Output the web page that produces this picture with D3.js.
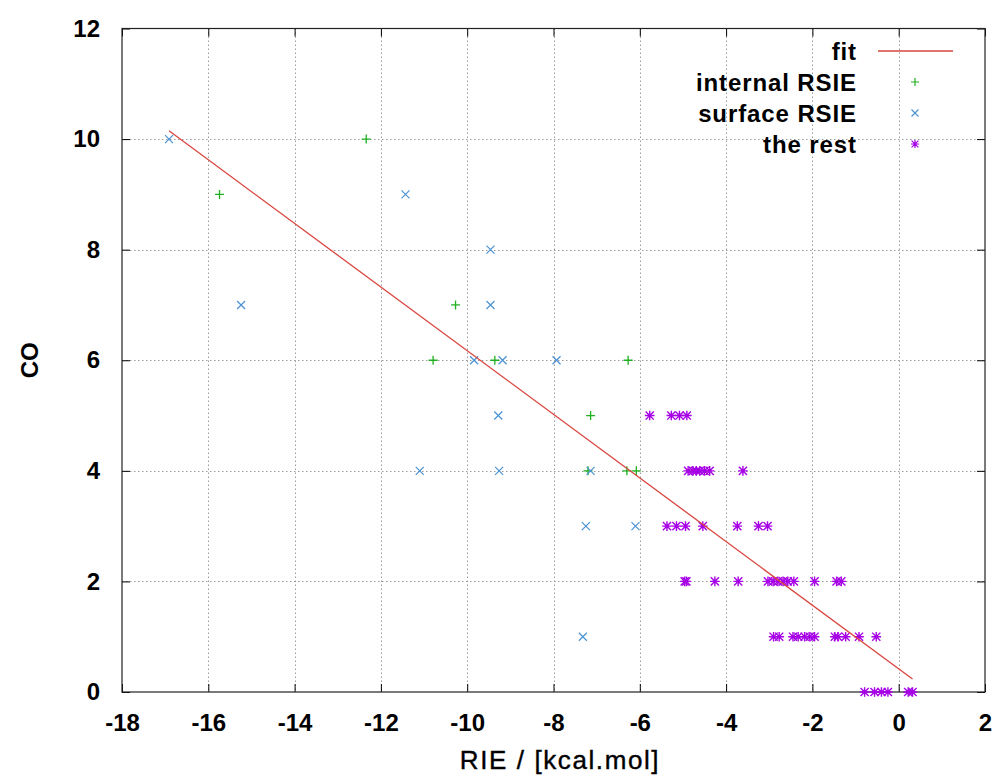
<!DOCTYPE html>
<html>
<head>
<meta charset="utf-8">
<script src="https://cdn.jsdelivr.net/npm/d3@7"></script>
<style>
  html, body { margin: 0; padding: 0; background: #fff; }
  svg { display: block; }
  text { font-family: "Liberation Sans", Arial, sans-serif; fill: #000; }
</style>
</head>
<body>
<svg id="chart" width="997" height="781"></svg>
<script>
// Internal RSIE points
const internalX = [-15.74, -12.34, -10.27, -10.79, -9.36, -6.27, -7.14, -7.20, -6.30, -6.08];
const internalY = [9, 10, 7, 6, 6, 6, 5, 4, 4, 4];

// Surface RSIE points
const surfaceX = [-16.91, -11.43, -15.24, -9.46, -9.46, -9.84, -9.18, -7.93, -9.28, -11.10, -9.26, -7.14, -7.25, -6.10, -7.32];
const surfaceY = [10, 9, 7, 8, 7, 6, 6, 6, 5, 4, 4, 4, 3, 3, 1];

// Remaining points
const restX = [
  -5.77, -5.27, -5.08, -4.91,
  -4.88, -4.77, -4.69, -4.61, -4.50, -4.38, -3.61,
  -5.37, -5.15, -4.94, -4.54, -3.74, -3.25, -3.04,
  -4.96, -4.92, -4.26, -3.72, -3.03, -2.91, -2.80, -2.68, -2.57, -2.43, -1.95, -1.44, -1.33,
  -2.90, -2.77, -2.45, -2.33, -2.18, -2.06, -1.95, -1.48, -1.41, -1.23, -0.92, -0.52,
  -0.79, -0.56, -0.40, -0.25, 0.22, 0.32
];
const restY = [
  5, 5, 5, 5,
  4, 4, 4, 4, 4, 4, 4,
  3, 3, 3, 3, 3, 3, 3,
  2, 2, 2, 2, 2, 2, 2, 2, 2, 2, 2, 2, 2,
  1, 1, 1, 1, 1, 1, 1, 1, 1, 1, 1, 1,
  0, 0, 0, 0, 0, 0
];

// Linear fit CO = slope * RIE + intercept
const fitSlope = -0.5755;
const fitIntercept = 0.418;

const xTicks = [-18, -16, -14, -12, -10, -8, -6, -4, -2, 0, 2];
const yTicks = [0, 2, 4, 6, 8, 10, 12];
const seriesNames = ["fit", "internal RSIE", "surface RSIE", "the rest"];

const colors = { fit: "#d9463f", internal: "#1fb01f", surface: "#4a92d4", rest: "#a600e6" };

const margin = { left: 122, right: 12, top: 28.5, bottom: 89 };
const W = 997, H = 781;
const svg = d3.select("#chart");

const x = d3.scaleLinear().domain([-18, 2]).range([margin.left, W - margin.right]);
const y = d3.scaleLinear().domain([0, 12]).range([H - margin.bottom, margin.top]);

const x0 = x.range()[0], x1 = x.range()[1];
const yb = y.range()[0], yt = y.range()[1];

// Dotted grid
const grid = svg.append("g").attr("stroke", "#9a9a9a").attr("stroke-width", 1)
  .attr("stroke-dasharray", "1.5,2.5");
grid.selectAll("line.gx").data(xTicks.slice(1, -1)).join("line")
  .attr("x1", d => Math.round(x(d)) + 0.5).attr("x2", d => Math.round(x(d)) + 0.5)
  .attr("y1", yt).attr("y2", yb);
grid.selectAll("line.gy").data(yTicks.slice(1, -1)).join("line")
  .attr("y1", d => Math.round(y(d)) + 0.5).attr("y2", d => Math.round(y(d)) + 0.5)
  .attr("x1", x0).attr("x2", x1);

// Axes with inward ticks, mirrored on top and right
const tickLen = 8;
const plainNum = d => String(d);
const axisFont = g => g.selectAll("text")
  .style("font-family", '"Liberation Sans", Arial, sans-serif')
  .style("font-size", "24px").style("font-weight", "bold").attr("fill", "#000");

svg.append("g").attr("transform", `translate(0,${yb})`)
  .call(d3.axisBottom(x).tickValues(xTicks).tickSize(-tickLen).tickPadding(22).tickFormat(plainNum))
  .call(g => g.select(".domain").remove())
  .call(g => g.selectAll("line").attr("stroke", "#000"))
  .call(axisFont);

svg.append("g").attr("transform", `translate(0,${yt})`)
  .call(d3.axisTop(x).tickValues(xTicks).tickSize(-tickLen).tickFormat(""))
  .call(g => g.select(".domain").remove())
  .call(g => g.selectAll("line").attr("stroke", "#000"));

svg.append("g").attr("transform", `translate(${x0},0)`)
  .call(d3.axisLeft(y).tickValues(yTicks).tickSize(-tickLen).tickPadding(22).tickFormat(plainNum))
  .call(g => g.select(".domain").remove())
  .call(g => g.selectAll("line").attr("stroke", "#000"))
  .call(axisFont);

svg.append("g").attr("transform", `translate(${x1},0)`)
  .call(d3.axisRight(y).tickValues(yTicks).tickSize(-tickLen).tickFormat(""))
  .call(g => g.select(".domain").remove())
  .call(g => g.selectAll("line").attr("stroke", "#000"));

// Frame
svg.append("rect").attr("x", x0).attr("y", yt)
  .attr("width", x1 - x0).attr("height", yb - yt)
  .attr("fill", "none").attr("stroke", "#222").attr("stroke-width", 1.2);

// Marker shapes
const plusPath = r => `M${-r},0H${r}M0,${-r}V${r}`;
const crossPath = r => `M${-r},${-r}L${r},${r}M${-r},${r}L${r},${-r}`;
const starPath = r => plusPath(r) + crossPath(r * 0.85);

function drawPoints(xs, ys, pathFn, color, sw) {
  svg.append("g").selectAll("path").data(xs.map((v, i) => [v, ys[i]])).join("path")
    .attr("transform", d => `translate(${x(d[0])},${y(d[1])})`)
    .attr("d", pathFn).attr("fill", "none").attr("stroke", color).attr("stroke-width", sw);
}

drawPoints(internalX, internalY, () => plusPath(4.5), colors.internal, 1.3);
drawPoints(surfaceX, surfaceY, () => crossPath(4), colors.surface, 1.2);
drawPoints(restX, restY, () => starPath(4.8), colors.rest, 1.4);

// Fit line across the data range
const allX = internalX.concat(surfaceX, restX);
const fitDomain = d3.extent(allX);
svg.append("path")
  .datum(fitDomain.map(v => [v, fitSlope * v + fitIntercept]))
  .attr("d", d3.line().x(d => x(d[0])).y(d => y(d[1])))
  .attr("fill", "none").attr("stroke", colors.fit).attr("stroke-width", 1.3);

// Legend
const legendRight = 857, legendTop = 51, legendStep = 31;
const legend = svg.append("g");
seriesNames.forEach((name, i) => {
  const cy = legendTop + i * legendStep;
  legend.append("text").attr("x", legendRight).attr("y", cy + 8.5)
    .attr("text-anchor", "end").style("font-size", "24px").style("font-weight", "bold")
    .style("letter-spacing", "0.9px").text(name);
  const g = legend.append("g").attr("transform", `translate(915,${cy})`);
  if (i === 0) {
    g.append("line").attr("x1", -37).attr("x2", 38).attr("stroke", colors.fit).attr("stroke-width", 1.3);
  } else {
    const fn = i === 1 ? plusPath(4) : i === 2 ? crossPath(3.5) : starPath(4);
    const col = i === 1 ? colors.internal : i === 2 ? colors.surface : colors.rest;
    g.append("path").attr("d", fn).attr("fill", "none").attr("stroke", col).attr("stroke-width", 1.2);
  }
});

// Axis titles
svg.append("text").attr("x", 560).attr("y", 769)
  .attr("text-anchor", "middle").style("font-size", "26px")
  .style("letter-spacing", "1.6px").style("stroke", "#000").style("stroke-width", "0.4px")
  .text("RIE / [kcal.mol]");

svg.append("text").attr("transform", `translate(38,${(yt + yb) / 2}) rotate(-90)`)
  .attr("text-anchor", "middle").style("font-size", "24px").style("font-weight", "bold")
  .text("CO");
</script>
</body>
</html>
